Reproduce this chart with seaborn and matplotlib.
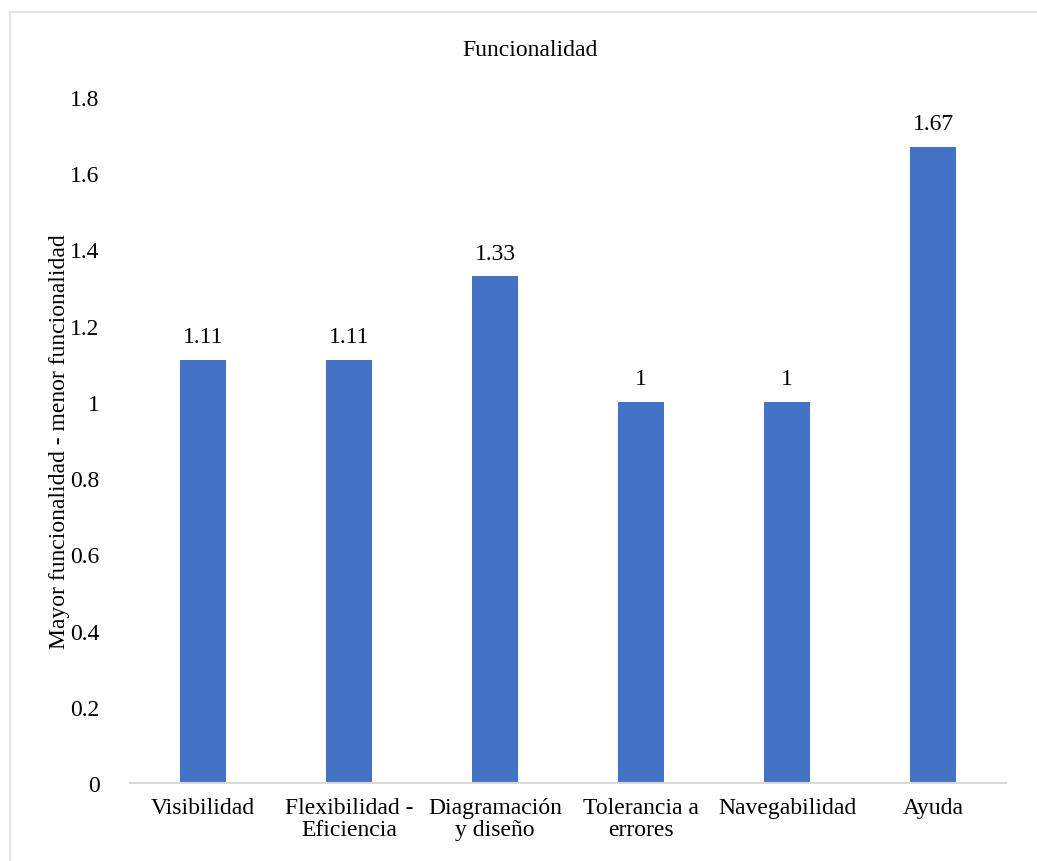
import matplotlib
matplotlib.use("Agg")
import matplotlib.pyplot as plt
import seaborn as sns
import pandas as pd
from matplotlib.patches import Rectangle

categories = ["Visibilidad", "Flexibilidad -\nEficiencia", "Diagramación\ny diseño",
              "Tolerancia a\nerrores", "Navegabilidad", "Ayuda"]
values = [1.11, 1.11, 1.33, 1, 1, 1.67]
value_labels = ["1.11", "1.11", "1.33", "1", "1", "1.67"]
y_ticks = [0, 0.2, 0.4, 0.6, 0.8, 1, 1.2, 1.4, 1.6, 1.8]
y_tick_labels = ["0", "0.2", "0.4", "0.6", "0.8", "1", "1.2", "1.4", "1.6", "1.8"]

sns.set_theme(style="white")
plt.rcParams["font.family"] = ["Liberation Serif", "DejaVu Serif"]
plt.rcParams["text.color"] = "black"
plt.rcParams["xtick.color"] = "black"
plt.rcParams["ytick.color"] = "black"

df = pd.DataFrame({"categoria": categories, "valor": values})

fig = plt.figure(figsize=(10.37, 8.62), dpi=100)
ax = fig.add_axes([130 / 1037, 1 - 784 / 862, (1006 - 130) / 1037, (784 - 98) / 862])

sns.barplot(data=df, x="categoria", y="valor", color="#4472C4", saturation=1,
            width=0.315, linewidth=0, ax=ax)

ax.bar_label(ax.containers[0], labels=value_labels, padding=9, fontsize=17, color="black")

ax.set_ylim(0, 1.8)
ax.set_yticks(y_ticks)
ax.set_yticklabels(y_tick_labels, fontsize=17, color="black")
ax.set_xlim(-0.5, len(categories) - 0.5)
ax.tick_params(axis="y", length=0, pad=22)
ax.tick_params(axis="x", length=0, pad=10)
for lbl in ax.get_xticklabels():
    lbl.set_fontsize(17)
    lbl.set_color("black")
    lbl.set_linespacing(1.05)
ax.set_xlabel("")
ax.set_ylabel("")

for side in ["left", "right", "top"]:
    ax.spines[side].set_visible(False)
ax.spines["bottom"].set_color("#d9d9d9")
ax.spines["bottom"].set_linewidth(1.5)

fig.text(530 / 1037, 1 - 50 / 862, "Funcionalidad", ha="center", va="center",
         fontsize=17, color="black")
fig.text(60 / 1037, 1 - 442 / 862, "Mayor funcionalidad - menor funcionalidad",
         rotation=90, ha="center", va="center", fontsize=17, color="black")

# chart area frame
fig.patches.append(Rectangle((10 / 1037, -0.1), 1.2, 1 - 13 / 862 + 0.1,
                             transform=fig.transFigure, fill=False,
                             edgecolor="#e3e3e3", linewidth=1.5))

fig.savefig("out.png", dpi=100)
